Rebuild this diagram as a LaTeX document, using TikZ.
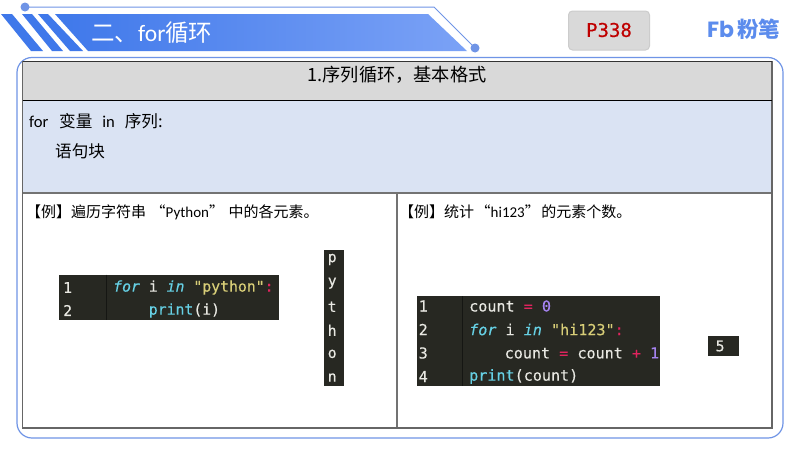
\documentclass[tikz,border=0pt]{standalone}
\usepackage{fontspec}
\usepackage{xcolor}
\setmainfont{Noto Sans CJK SC}
\newfontfamily\latinfont{Carlito}
\newfontfamily\codefont[FakeBold=0.2]{DejaVu Sans Mono}
\newfontfamily\tagfont[FakeBold=0.5]{DejaVu Sans Mono}
\newfontfamily\logofont{Poppins}
\usetikzlibrary{matrix, positioning, backgrounds}
\definecolor{framecolor}{HTML}{6F94E6}
\definecolor{bannerleft}{HTML}{3F78EA}
\definecolor{bannerright}{HTML}{7BA2F6}
\definecolor{headgray}{HTML}{D9D9D9}
\definecolor{paleblue}{HTML}{DAE3F3}
\definecolor{codeback}{HTML}{272822}
\definecolor{codecyan}{HTML}{66D0E4}
\definecolor{codeyellow}{HTML}{D8CE78}
\definecolor{codepink}{HTML}{E0245E}
\definecolor{codeviolet}{HTML}{A583F0}
\definecolor{codewhite}{HTML}{E8E8E2}
\newcommand{\kw}[1]{\textcolor{codecyan}{\itshape #1}}
\newcommand{\fn}[1]{\textcolor{codecyan}{#1}}
\newcommand{\str}[1]{\textcolor{codeyellow}{#1}}
\newcommand{\op}[1]{\textcolor{codepink}{#1}}
\newcommand{\num}[1]{\textcolor{codeviolet}{#1}}
\tikzset{
	stripe/.style = {fill=bannerleft,draw=none},
	cell/.style = {draw=#1,line width=1.2pt},
	plain/.style = {inner sep=0pt,anchor=west,text=black,font=\fontsize{16.6}{17}\selectfont},
	example/.style = {plain,font=\fontsize{15}{15}\selectfont},
	codeline/.style = {inner sep=0pt,anchor=west,text=codewhite,font=\fontsize{14.8}{15}\codefont},
	widecode/.style = {codeline,font=\fontsize{15.1}{15}\codefont},
	outcell/.style = {text=codewhite,font=\fontsize{14.8}{15}\codefont,inner sep=0pt,minimum width=20pt,minimum height=23.6pt},
}
\begin{document}
\begin{tikzpicture}[x=1pt,y=-1pt]
\useasboundingbox (0,0) rectangle (800,450);
\fill[white] (0,0) rectangle (800,450);
% banner
\fill[stripe] (1,14) -- (12,14) -- (43,51) -- (31,51) -- cycle;
\fill[stripe] (22,14) -- (32,14) -- (63,51) -- (52,51) -- cycle;
\fill[stripe] (38,14) -- (48,14) -- (83,51) -- (70,51) -- cycle;
\shade[left color=bannerleft,right color=bannerright] (55,14) -- (428,14) -- (467,51) -- (88,51) -- cycle;
\coordinate (lineleft) at (25,7);
\coordinate (lineright) at (475,48);
\draw[framecolor,line width=1pt] (lineleft) -- (434,7) -- (lineright);
\fill[framecolor] (lineleft) circle (4.5pt);
\fill[framecolor] (lineright) circle (4.5pt);
\node[inner sep=0pt,anchor=west,text=white,font=\fontsize{23.5}{24}\selectfont] (title) at (91,33) {二、{\latinfont for}循环};
% page tag and logo
\node[draw=black!20,fill=headgray,rounded corners=4pt,line width=1pt,minimum width=81pt,minimum height=39pt,inner sep=0pt] (tag) at (609,30.5) {};
\node[text=red!75!black,font=\fontsize{19}{19}\tagfont] (tagtext) at (609,30) {P338};
\node[inner sep=0pt,anchor=west,text=bannerleft!85!white,font=\fontsize{22}{22}\logofont\bfseries] (fb) at (707,29) {Fb};
\node[inner sep=0pt,anchor=west,text=bannerleft!85!white,font=\fontsize{21.5}{22}\bfseries] (fen) at (737,29) {粉笔};
% frame and table
\draw[framecolor,line width=1.2pt,rounded corners=15pt] (17,57.5) rectangle (783,438);
\fill[headgray] (22.5,61) rectangle (772,100);
\fill[paleblue] (22.5,100) rectangle (772,193);
\draw[cell=black!55] (22.5,193) -- (772,193) (397,193) -- (397,428);
\draw[cell=black!60] (22.5,61) -- (22.5,428) -- (772,428) -- (772,61);
\draw[black!80,line width=1pt] (22.5,61) -- (772,61);
\draw[black,line width=1.4pt] (22.5,100.5) -- (772,100.5);
\node[inner sep=0pt,font=\fontsize{18.2}{18}\selectfont] (head) at (397,75) {1.序列循环，基本格式};
\node[plain] (syntax) at (29,121) {{\latinfont for}\hspace{0.65em}变量\hspace{0.6em}{\latinfont in}\hspace{0.6em}序列:};
\node[plain] (block) at (55,151.5) {语句块};
\node[example] (exleft) at (26,212) {【例】遍历字符串\hspace{0.3em}“{\latinfont Python}”\hspace{0.3em}中的各元素。};
\node[example] (exright) at (399,212) {【例】统计\hspace{0.1em}“{\latinfont hi123}”\hspace{0.1em}的元素个数。};
% left code
\fill[codeback] (59,274.5) rectangle (279,319.5);
\draw[black!45!codeback,line width=0.6pt] (106,274.5) -- (106,319.5);
\node[codeline] (la1) at (63,287.5) {1};
\node[codeline] (la2) at (63,310.5) {2};
\node[codeline] (lb1) at (113,287.5) {\kw{for} i \kw{in} \str{"python"}\op{:}};
\node[codeline] (lb2) at (148.6,310.5) {\fn{print}(i)};
% output column
\fill[codeback] (324,250) rectangle (344,386);
\matrix (out)[matrix of nodes,nodes={outcell},row sep=0pt,inner sep=0pt,anchor=north west] at (322,247.5)
{
	p\\ y\\ t\\ h\\ o\\ n\\
};
% right code
\fill[codeback] (417,296) rectangle (660,386);
\draw[black!45!codeback,line width=0.6pt] (462,296) -- (462,386);
\node[widecode] (ra1) at (418.5,306) {1};
\node[widecode] (ra2) at (418.5,329.5) {2};
\node[widecode] (ra3) at (418.5,353) {3};
\node[widecode] (ra4) at (418.5,376.5) {4};
\node[widecode] (rb1) at (469,306) {count \op{=} \num{0}};
\node[widecode] (rb2) at (469,329.5) {\kw{for} i \kw{in} \str{"hi123"}\op{:}};
\node[widecode] (rb3) at (504.5,353) {count \op{=} count \op{+} \num{1}};
\node[widecode] (rb4) at (469,376.5) {\fn{print}(count)};
\node[fill=codeback,minimum width=31pt,minimum height=20pt,inner sep=0pt] (five) at (723.5,346) {};
\node[codeline] (fivetext) at (715.5,346) {5};
\end{tikzpicture}
\end{document}
